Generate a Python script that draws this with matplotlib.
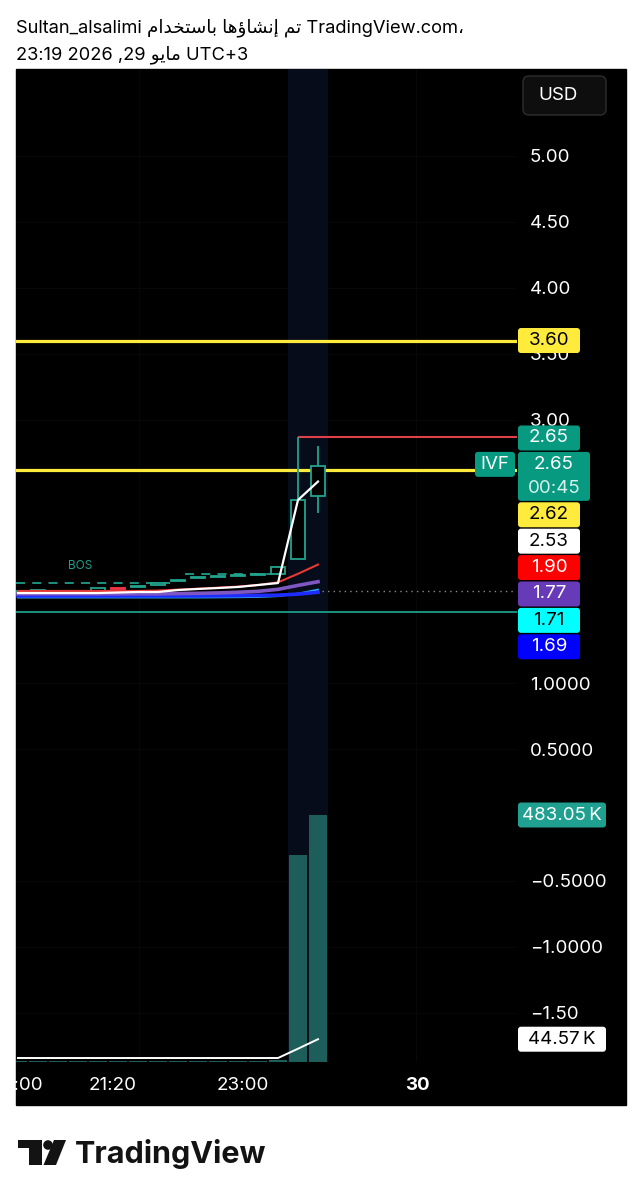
import numpy as np
import matplotlib.pyplot as plt
from matplotlib.patches import Rectangle, FancyBboxPatch, Circle, Polygon
from matplotlib.transforms import IdentityTransform

W, H = 642, 1200
FONT = ['Inter', 'DejaVu Sans']
TEAL = '#22a38d'
RED = '#f23645'

# ---- data (bars are counted back from the live 23:10 bar) ----
bar = np.arange(-15, 1)
opens  = [1.690, 1.695, 1.680, 1.684, 1.684, 1.717, 1.728, 1.748, 1.775, 1.800, 1.806, 1.812, 1.818, 1.830, 1.940, 2.420]
highs  = [1.690, 1.700, 1.680, 1.684, 1.722, 1.717, 1.733, 1.752, 1.781, 1.800, 1.806, 1.812, 1.818, 1.890, 2.870, 2.800]
lows   = [1.690, 1.695, 1.675, 1.684, 1.684, 1.712, 1.728, 1.748, 1.775, 1.800, 1.806, 1.812, 1.818, 1.820, 1.940, 2.290]
closes = [1.690, 1.700, 1.675, 1.684, 1.722, 1.712, 1.733, 1.752, 1.781, 1.800, 1.806, 1.812, 1.818, 1.880, 2.390, 2.650]

ma_white  = [1.684, 1.684, 1.684, 1.684, 1.684, 1.688, 1.692, 1.692, 1.707, 1.715, 1.722, 1.730, 1.745, 1.760, 2.390, 2.530]
ma_red    = [1.700, 1.700, 1.700, 1.700, 1.700, 1.700, 1.700, 1.703, 1.710, 1.717, 1.725, 1.733, 1.745, 1.765, 1.830, 1.900]
ma_purple = [1.678, 1.678, 1.678, 1.678, 1.678, 1.678, 1.678, 1.678, 1.680, 1.682, 1.685, 1.690, 1.697, 1.712, 1.742, 1.770]
ma_blue   = [1.662, 1.662, 1.662, 1.662, 1.662, 1.662, 1.662, 1.662, 1.662, 1.662, 1.663, 1.664, 1.666, 1.668, 1.676, 1.690]
ma_cyan   = [1.650, 1.650, 1.650, 1.650, 1.650, 1.650, 1.650, 1.650, 1.650, 1.650, 1.651, 1.652, 1.654, 1.660, 1.680, 1.710]

volume = [1.5, 1.5, 1.5, 1.5, 1.5, 1.5, 1.5, 1.5, 1.5, 1.5, 1.5, 1.5, 1.5, 3.0, 405.0, 483.05]   # K
vol_ma = [7.8, 7.8, 7.8, 7.8, 7.8, 7.8, 7.8, 7.8, 7.8, 7.8, 7.8, 7.8, 7.8, 7.8, 26.0, 44.57]      # K

level_high = 2.87       # red line from the 23:00 high
level_yellow = [3.60, 2.62]
level_support = 1.54
level_prev = 1.70
bos_levels = [1.758, 1.826]

price_ticks = [5.0, 4.5, 4.0, 3.5, 3.0, 1.0, 0.5, -0.5, -1.0, -1.5]
price_tick_labels = ['5.00', '4.50', '4.00', '3.50', '3.00', '1.0000', '0.5000',
                     '\u22120.5000', '\u22121.0000', '\u22121.50']
time_labels = ['20:00', '21:20', '23:00', '30']

tag_vals = [2.65, 2.65, 2.62, 2.53, 1.90, 1.77, 1.71, 1.69]
tag_fc = ['#089981', '#089981', '#ffeb3b', '#ffffff', '#ff0000', '#673ab7', '#00ffff', '#0000ff']
tag_tc = ['white', 'white', 'black', 'black', 'white', 'white', 'black', 'white']
countdown = '00:45'

# ---- figure ----
fig = plt.figure(figsize=(W / 100, H / 100), dpi=100, facecolor='white')
ID = IdentityTransform()


def Y(y):  # screen y (top origin) -> display y
    return H - y


fig.add_artist(Rectangle((16, Y(1105)), 610, 1036, transform=ID, color='black', zorder=-2))

ax = fig.add_axes([16 / W, (H - 1062) / H, (517 - 16) / W, (1062 - 69) / H])
ax2 = ax.twinx()   # volume overlay; twinx resets ax ticks, so configure ax after this
ax.set_facecolor('none')
ax.set_xlim(-15.1, 9.95)
ax.set_ylim(-1.874, 5.66)
for s in list(ax.spines.values()) + list(ax2.spines.values()):
    s.set_visible(False)

ax.yaxis.tick_right()
ax.set_yticks(price_ticks)
ax.set_yticklabels(price_tick_labels)
ax.set_xticks([-15.03, -10.25, -3.75, 4.95])
ax.set_xticklabels(time_labels)
ax.tick_params(length=0, colors='white', labelsize=13.5)
ax.tick_params(axis='y', pad=9.4, left=False, labelleft=False)
ax.tick_params(axis='x', pad=11)
for t in ax.get_xticklabels() + ax.get_yticklabels():
    t.set_family(FONT)
ax.get_xticklabels()[-1].set_fontweight('bold')

# faint grid
for v in price_ticks:
    ax.axhline(v, color='#070707', lw=0.8, zorder=0)
for xv in [-8.95, 4.9]:
    ax.axvline(xv, color='#070707', lw=0.8, zorder=0)

# session highlight
ax.axvspan(-1.5, 0.5, color='#070c1a', zorder=0.5, lw=0)

# horizontal levels
ax.axhline(level_support, color='#1f9e89', lw=1.3, zorder=2)
for lv in level_yellow:
    ax.axhline(lv, color='#ffeb3b', lw=2.3, zorder=2)
ax.hlines(level_high, -1, 9.95, color='#e0404a', lw=1.5, zorder=2)
ax.hlines(level_prev, 0.2, 9.95, color='#8a8a8a', lw=1.0, linestyles=(0, (1, 3)), zorder=2)
ax.hlines(bos_levels[0], -15.1, -7.4, color='#1f9e89', lw=1.3, linestyles=(0, (5, 4)), zorder=2)
ax.hlines(bos_levels[1], -6.65, -2.3, color='#1f9e89', lw=1.3, linestyles=(0, (5, 4)), zorder=2)
ax.text(-11.9, 1.889, 'BOS', color='#1f9e89', fontsize=8.5, family=FONT, ha='center', va='center')

# candles
for x, o, h, l, c in zip(bar, opens, highs, lows, closes):
    up = c >= o
    col = TEAL if up else RED
    ax.vlines(x, l, h, color=col, lw=1.3, zorder=3)
    ht = max(abs(c - o), 0.009)
    ax.add_patch(Rectangle((x - 0.35, min(o, c)), 0.7, ht, facecolor='black' if up else RED,
                           edgecolor=col, lw=1.3, zorder=3.2))

# moving averages
ax.plot(bar, ma_cyan, color='#29b6f6', lw=1.3, zorder=4)
ax.plot(bar, ma_blue, color='#1f2cff', lw=2.6, zorder=4)
ax.plot(bar, ma_purple, color='#7e57c2', lw=2.6, zorder=4.1)
ax.plot(bar, ma_red, color='#e53935', lw=1.5, zorder=4.2)
ax.plot(bar, ma_white, color='white', lw=1.6, zorder=4.3)

# volume pane overlay
ax2.set_ylim(0, 1942)
ax2.tick_params(right=False, labelright=False, left=False, labelleft=False)
ax2.bar(bar, volume, width=0.9, color='#1d5e5a', zorder=2)
ax2.plot(bar, vol_ma, color='white', lw=1.4, zorder=3)


# ---- price tags ----
def tag(top, text, fc, tc, x0=518, w=62, h=25, lines=None):
    fig.add_artist(FancyBboxPatch((x0, Y(top + h)), w, h, boxstyle='round,pad=0,rounding_size=3',
                                  transform=ID, fc=fc, ec='none', zorder=5))
    if lines is None:
        fig.text(x0 + w / 2, Y(top + h / 2), text, transform=ID, color=tc, fontsize=13.5,
                 family=FONT, ha='center', va='center', zorder=6)
    else:
        for k, (s, cc) in enumerate(lines):
            fig.text(x0 + w / 2, Y(top + 12.5 + 24 * k), s, transform=ID, color=cc, fontsize=13.5,
                     family=FONT, ha='center', va='center', zorder=6)


def ypx(axis, v):
    return H - axis.transData.transform((0, v))[1]


heights = [25, 49, 25, 25, 25, 25, 25, 25]
gap = 1.4
anchor = 4
tops = [0.0] * len(tag_vals)
tops[anchor] = ypx(ax, tag_vals[anchor]) + 3 - heights[anchor] / 2
for i in range(anchor - 1, -1, -1):
    tops[i] = tops[i + 1] - gap - heights[i]
for i in range(anchor + 1, len(tag_vals)):
    tops[i] = tops[i - 1] + heights[i - 1] + gap

for i, v in enumerate(tag_vals):
    if i == 1:
        tag(tops[i], None, tag_fc[i], tag_tc[i], w=72, h=heights[i],
            lines=[(f'{v:.2f}', 'white'), (countdown, '#d6f2ec')])
        tag(tops[i], 'IVF', tag_fc[i], 'white', x0=475, w=40)
    else:
        tag(tops[i], f'{v:.2f}', tag_fc[i], tag_tc[i], h=heights[i])

tag(ypx(ax, level_yellow[0]) - 12.5, f'{level_yellow[0]:.2f}', '#ffeb3b', 'black')
tag(ypx(ax2, volume[-1]) - 12.5, f'{volume[-1]:.2f}\u2009K', '#1fa090', 'white', w=88)
tag(ypx(ax2, vol_ma[-1]) - 12.5, f'{vol_ma[-1]:.2f}\u2009K', '#ffffff', 'black', w=88)

# currency button
fig.add_artist(FancyBboxPatch((523, Y(115)), 83, 39, boxstyle='round,pad=0,rounding_size=6',
                              transform=ID, fc='#0e0e0e', ec='#2e2e2e', lw=1, zorder=5))
fig.text(538, Y(96), 'USD', transform=ID, color='white', fontsize=13.5, family=FONT,
         va='center', zorder=6)

# ---- header (Arabic written in visual order with presentation forms) ----
w_using = '\uFEE1\uFE8D\uFEAA\uFEA8\uFE98\uFEB3\uFE8E\uFE91'   # باستخدام
w_made = '\uFE8E\uFEEB\uFE85\uFE8E\uFEB8\uFEE7\uFE87'          # إنشاؤها
w_done = '\uFEE2\uFE97'                                        # تم
w_may = '\uFEEE\uFEF3\uFE8E\uFEE3'                             # مايو
line1 = f'Sultan_alsalimi {w_using} {w_made} {w_done} TradingView.com\u060C'
line2 = f'23:19 2026 ,29 {w_may} UTC+3'
fig.text(16, Y(28), line1, transform=ID, color='black', fontsize=13.2, family=FONT, va='center')
fig.text(16, Y(55), line2, transform=ID, color='black', fontsize=13.2, family=FONT, va='center')

# ---- TradingView logo ----
fig.add_artist(Polygon([(18, Y(1140)), (42, Y(1140)), (42, Y(1165)), (29, Y(1165)),
                        (29, Y(1148)), (18, Y(1148))], closed=True, transform=ID, fc='#131313', ec='none'))
fig.add_artist(Circle((48, Y(1145)), 4.8, transform=ID, fc='#131313', ec='none'))
fig.add_artist(Polygon([(54, Y(1140)), (66, Y(1140)), (56, Y(1165)), (43.5, Y(1165))],
                       closed=True, transform=ID, fc='#131313', ec='none'))
fig.text(75, Y(1163), 'TradingView', transform=ID, color='#131313', fontsize=22,
         family=FONT, fontweight='bold', va='baseline')

fig.savefig('out.png', dpi=100, facecolor='white')
